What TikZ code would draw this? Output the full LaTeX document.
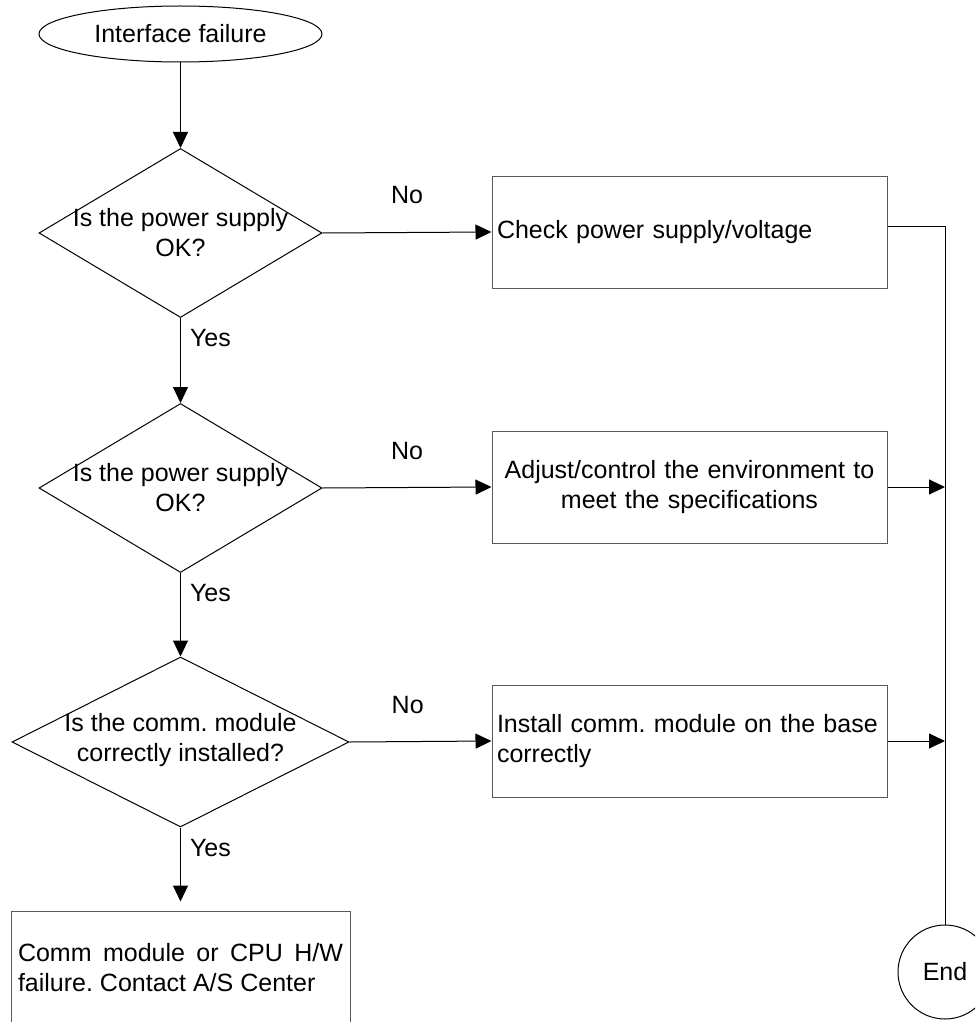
\documentclass[tikz,border=0pt]{standalone}
\usepackage{fontspec}
\setmainfont{Liberation Sans}
\usetikzlibrary{shapes.geometric,arrows.meta}
\frenchspacing
\begin{document}
\begin{tikzpicture}[x=1pt,y=-1pt,
  every node/.style={font=\fontsize{25}{30}\selectfont\frenchspacing},
  line/.style={line width=1pt,draw=black},
  arr/.style={line, -{Triangle[length=16pt,width=15pt]}},
  startnode/.style={ellipse,draw,line width=1pt,minimum width=283pt,minimum height=56pt,inner sep=0pt},
  dia/.style={diamond,draw,line width=1pt,inner sep=0pt},
  diatext/.style={align=center,inner sep=0pt},
  box/.style={rectangle,draw=black!65,line width=1pt,minimum width=395pt,minimum height=112pt,text width=385pt,inner xsep=5pt,inner ysep=0pt},
  lbl/.style={inner sep=0pt},
  endnode/.style={circle,draw,line width=1pt,minimum size=94pt,inner sep=0pt}
]
\useasboundingbox (0,0) rectangle (975,1022);
\clip (0,0) rectangle (975,1022);
\fill[white] (0,0) rectangle (975,1022);

\node[startnode] (start) at (180.5,34) {Interface failure};

\node[dia,minimum width=283pt,minimum height=169pt] (d1) at (180.5,233) {};
\node[diatext] (t1) at (d1.center) {Is the power supply\\OK?};
\node[dia,minimum width=283pt,minimum height=169pt] (d2) at (180.5,488) {};
\node[diatext] (t2) at (d2.center) {Is the power supply\\OK?};
\node[dia,minimum width=337pt,minimum height=170pt] (d3) at (180.5,742) {};
\node[diatext] (t3) at ([yshift=2pt]d3.center) {Is the comm. module\\correctly installed?};

\node[box,align=left] (b1) at (689.5,232) {Check power supply/voltage};
\node[box,align=center] (b2) at (689.5,487) {Adjust/control the environment to\\meet the specifications};
\node[box,align=left] (b3) at (689.5,741) {Install comm. module on the base correctly};
\node[box,minimum width=339pt,text width=325pt,inner xsep=7pt,minimum height=114pt,align=justify] (b4) at (180.5,968) {\tolerance=10000 Comm module or CPU H/W failure. Contact A/S Center};

\node[endnode] (endc) at (945,972) {End};

% vertical flow
\draw[arr] (start.south) -- (d1.north);
\draw[arr] (d1.south) -- node[lbl,pos=0.24,anchor=west,xshift=9pt] {Yes} (d2.north);
\draw[arr] (d2.south) -- node[lbl,pos=0.24,anchor=west,xshift=9pt] {Yes} (d3.north);
\draw[arr,shorten >=9pt] (d3.south) -- node[lbl,pos=0.25,anchor=west,xshift=9pt] {Yes} (b4.north);

% No branches
\draw[arr] (d1.east) -- node[lbl,pos=0.5,yshift=37pt] {No} (b1.west);
\draw[arr] (d2.east) -- node[lbl,pos=0.5,yshift=36pt] {No} (b2.west);
\draw[arr] (d3.east) -- node[lbl,pos=0.41,yshift=37pt] {No} (b3.west);

% right collector line
\draw[line] ([yshift=6pt]b1.east) -| (endc.north);
\draw[arr] (b2.east) -- (b2.east -| endc.north);
\draw[arr] (b3.east) -- (b3.east -| endc.north);
\end{tikzpicture}
\end{document}
